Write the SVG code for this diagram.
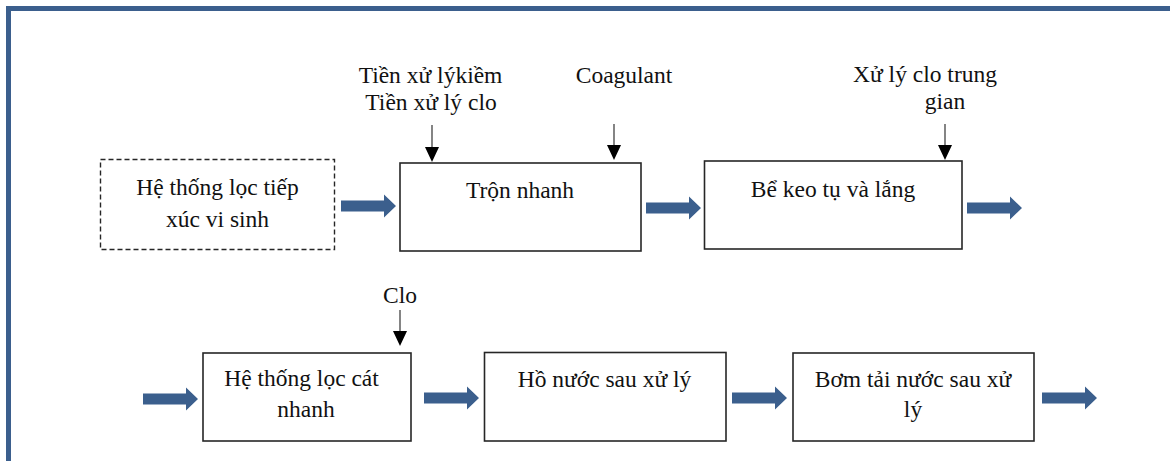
<svg xmlns="http://www.w3.org/2000/svg" width="1170" height="461" viewBox="0 0 1170 461">
<defs>
<style>
.box{fill:#fff;stroke:#262626;stroke-width:1.6}
.dash{fill:#fff;stroke:#262626;stroke-width:1.4;stroke-dasharray:5 3}
.t{font-family:"Liberation Serif","Times New Roman",serif;font-size:23.5px;fill:#111;text-anchor:middle}
.flow{fill:#3b5f8d}
.feed{stroke:#333;stroke-width:1.2;fill:none}
.head{fill:#000}
</style>
<path id="blk" d="M0,-5.5 H43 V-11.5 L55,0 L43,11.5 V5.5 H0 Z"/>
<path id="tri" d="M-7,0 H7 L0,15 Z"/>
</defs>
<rect width="1170" height="461" fill="#fff"/>
<path d="M8.5,461 V8.5 H1170" fill="none" stroke="#3b5f8d" stroke-width="5"/>

<g id="n1">
<rect class="dash" x="100.5" y="159.5" width="234" height="90"/>
<text class="t" x="217.5" y="195">Hệ thống lọc tiếp</text>
<text class="t" x="217.5" y="227">xúc vi sinh</text>
</g>
<g id="n2">
<rect class="box" x="400" y="163" width="241" height="88"/>
<text class="t" x="520" y="198">Trộn nhanh</text>
</g>
<g id="n3">
<rect class="box" x="704.5" y="161" width="257.5" height="88"/>
<text class="t" x="833" y="197">Bể keo tụ và lắng</text>
</g>
<g id="n4">
<rect class="box" x="203" y="353" width="208" height="88"/>
<text class="t" x="301.5" y="386">Hệ thống lọc cát</text>
<text class="t" x="306" y="417">nhanh</text>
</g>
<g id="n5">
<rect class="box" x="484.5" y="352.5" width="241.5" height="88.5"/>
<text class="t" x="604.5" y="387">Hồ nước sau xử lý</text>
</g>
<g id="n6">
<rect class="box" x="793" y="353" width="241" height="88"/>
<text class="t" x="913" y="387">Bơm tải nước sau xử</text>
<text class="t" x="913" y="417">lý</text>
</g>

<g id="labels">
<text class="t" x="430.5" y="83">Tiền xử lýkiềm</text>
<text class="t" x="431" y="110">Tiền xử lý clo</text>
<text class="t" x="624" y="83">Coagulant</text>
<text class="t" x="925" y="82">Xử lý clo trung</text>
<text class="t" x="945" y="109">gian</text>
<text class="t" x="400" y="303">Clo</text>
</g>

<g id="connectors">
<use href="#blk" class="flow" x="341" y="206"/>
<use href="#blk" class="flow" x="646" y="208"/>
<use href="#blk" class="flow" x="967" y="208"/>
<use href="#blk" class="flow" x="143" y="399"/>
<use href="#blk" class="flow" x="424" y="398"/>
<use href="#blk" class="flow" x="732" y="398"/>
<use href="#blk" class="flow" x="1042" y="398"/>

<line class="feed" x1="432" y1="125" x2="432" y2="148"/>
<use href="#tri" class="head" x="432" y="147"/>
<line class="feed" x1="614" y1="124" x2="614" y2="146"/>
<use href="#tri" class="head" x="614" y="145"/>
<line class="feed" x1="945" y1="124" x2="945" y2="146"/>
<use href="#tri" class="head" x="945" y="145"/>
<line class="feed" x1="400" y1="310" x2="400" y2="332"/>
<use href="#tri" class="head" x="400" y="331"/>
</g>
</svg>
